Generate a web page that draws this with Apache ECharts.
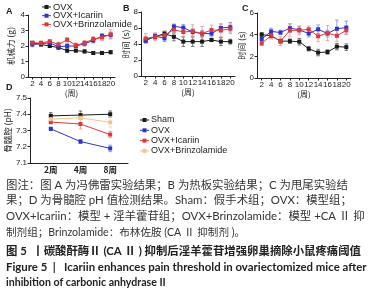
<!DOCTYPE html>
<html><head><meta charset="utf-8">
<script src="https://cdn.jsdelivr.net/npm/echarts@6/dist/echarts.min.js"></script>
<style>html,body{margin:0;padding:0;background:#fff}#c{width:383px;height:293px}</style>
</head><body><div id="c"></div>
<script>
// ---------- data ----------
const weeks = [2,4,6,8,10,12,14,16,18,20];
const weekTicks = [2,4,6,8,10,12,14,16,18,20];
// Panel A (von Frey, g)
const A_ovx = [2.2,2.1,2.0,1.9,1.7,1.7,1.65,1.55,1.55,1.6];
const A_ovxErr = [0.1,0.1,0.1,0.1,0.1,0.08,0.1,0.08,0.1,0.1];
const A_ica = [2.1,2.15,2.2,1.95,2.0,2.0,2.15,2.35,2.65,2.7];
const A_icaErr = [0.15,0.15,0.12,0.15,0.15,0.12,0.15,0.15,0.15,0.2];
const A_brz = [2.2,2.2,2.3,2.1,2.4,2.05,2.2,2.45,2.55,2.75];
const A_brzErr = [0.12,0.12,0.12,0.15,0.15,0.15,0.15,0.15,0.2,0.3];
// Panel B (hot plate, s)
const B_ovx = [4.5,4.9,5.3,4.9,4.3,4.3,4.3,4.5,4.3,4.3];
const B_ovxErr = [0.3,0.3,0.3,0.5,0.6,0.6,0.6,0.2,0.5,0.3];
const B_ica = [4.4,5.0,4.7,6.2,6.05,5.5,5.3,5.3,6.0,6.1];
const B_icaErr = [0.3,0.3,0.4,0.3,0.4,0.4,0.4,0.4,0.5,0.6];
const B_brz = [4.7,4.9,5.1,5.8,5.5,5.6,5.3,5.75,5.7,5.9];
const B_brzErr = [0.6,0.5,0.5,0.5,0.6,0.8,0.9,0.6,0.8,0.6];
// Panel C (tail flick, s)
const C_ovx = [4.0,3.9,3.4,3.4,3.35,2.7,2.35,2.4,2.9,2.85];
const C_ovxErr = [0.2,0.2,0.2,0.2,0.3,0.2,0.3,0.2,0.3,0.3];
const C_ica = [3.6,4.3,4.2,4.6,4.45,4.1,4.5,4.1,4.55,4.65];
const C_icaErr = [0.3,0.3,0.2,0.4,0.3,0.3,0.4,0.3,0.8,0.6];
const C_brz = [3.2,3.9,3.4,4.4,4.4,4.5,3.85,4.15,3.9,4.4];
const C_brzErr = [0.2,0.3,0.4,0.6,0.4,0.3,0.5,0.7,0.5,0.4];
// Panel D (bone marrow cavity pH)
const D_cats = ['2周','4周','8周'];
const D_sham = [7.39,7.395,7.40];
const D_shamErr = [0.02,0.025,0.02];
const D_ovx = [7.31,7.232,7.19];
const D_ovxErr = [0.01,0.012,0.02];
const D_ica = [7.352,7.34,7.275];
const D_icaErr = [0.012,0.03,0.02];
const D_brz = [7.37,7.378,7.35];
const D_brzErr = [0.01,0.03,0.03];
const legendABC = ['OVX','OVX+Icariin','OVX+Brinzolamide'];
const legendD = ['Sham','OVX','OVX+Icariin','OVX+Brinzolamide'];
const captionLines = [
 '图注：图 A 为冯佛雷实验结果；B 为热板实验结果；C 为甩尾实验结',
 '果；D 为骨髓腔 pH 值检测结果。Sham：假手术组；OVX：模型组；',
 'OVX+Icariin：模型 + 淫羊藿苷组；OVX+Brinzolamide：模型 +CA Ⅱ 抑',
 '制剂组；Brinzolamide：布林佐胺 (CA Ⅱ 抑制剂 )。'
];
const titleLines = [
 '图 5  丨碳酸酐酶Ⅱ (CA Ⅱ ) 抑制后淫羊藿苷增强卵巢摘除小鼠疼痛阈值',
 'Figure 5  |   Icariin enhances pain threshold in ovariectomized mice after',
 'inhibition of carbonic anhydrase II'
];

// ---------- styling ----------
const BLACK='#1a1a1a', BLUE='#2a35d0', RED='#e0383a', TAN='#f2c48e';
const colABC=[BLACK,BLUE,RED];
const colD=[BLACK,BLUE,RED,TAN];
const errCol={[BLACK]:'#555',[BLUE]:'#7a86e8',[RED]:'#f09090',[TAN]:'#f5d6b0'};
const FONT='Liberation Sans';
const CJK='Noto Sans CJK SC';
const TXT='Lato, "Noto Sans CJK SC"';
const axisLine={show:true,lineStyle:{color:'#222',width:1}};
const axisTick={show:true,length:2.5,lineStyle:{color:'#222'}};
const lab={fontSize:8,color:'#222',fontFamily:FONT,margin:3};

function pts(xs,ys){return xs.map((x,i)=>[x,ys[i]]);}
function lineS(idx,xs,ys,color){
  return {type:'line',xAxisIndex:idx,yAxisIndex:idx,data:pts(xs,ys),symbol:'rect',symbolSize:4,
    itemStyle:{color:color},lineStyle:{color:color,width:1},z:3,animation:false,silent:true};
}
function errS(idx,xs,ys,es,color){
  return {type:'custom',xAxisIndex:idx,yAxisIndex:idx,data:xs.map((x,i)=>[x,ys[i],es[i]]),z:2,animation:false,silent:true,
    renderItem:function(p,api){
      const x=api.value(0),y=api.value(1),e=api.value(2);
      const t=api.coord([x,y+e]),b=api.coord([x,y-e]);const w=1.8;
      const st={stroke:color,lineWidth:0.8};
      return {type:'group',children:[
        {type:'line',shape:{x1:t[0],y1:t[1],x2:b[0],y2:b[1]},style:st},
        {type:'line',shape:{x1:t[0]-w,y1:t[1],x2:t[0]+w,y2:t[1]},style:st},
        {type:'line',shape:{x1:b[0]-w,y1:b[1],x2:b[0]+w,y2:b[1]},style:st}]};
    }};
}
function weekX(idx){
  return {type:'value',gridIndex:idx,min:1,max:21,axisLine:axisLine,
    axisTick:Object.assign({customValues:weekTicks},axisTick),
    axisLabel:Object.assign({customValues:weekTicks},lab),splitLine:{show:false},
    name:'(周)',nameLocation:'middle',nameGap:12,nameTextStyle:{fontSize:8,color:'#222',fontFamily:CJK}};
}
function yAx(idx,min,max,interval,name,gap){
  return {type:'value',gridIndex:idx,min:min,max:max,interval:interval,axisLine:axisLine,axisTick:axisTick,
    axisLabel:lab,splitLine:{show:false},name:name,nameLocation:'middle',nameRotate:90,nameGap:gap,
    nameTextStyle:{fontSize:8.5,color:'#222',fontFamily:CJK}};
}

const series=[];
const ABC=[[A_ovx,A_ovxErr,A_ica,A_icaErr,A_brz,A_brzErr],[B_ovx,B_ovxErr,B_ica,B_icaErr,B_brz,B_brzErr],[C_ovx,C_ovxErr,C_ica,C_icaErr,C_brz,C_brzErr]];
ABC.forEach((d,idx)=>{
  for(let k=0;k<3;k++){
    series.push(errS(idx,weeks,d[2*k],d[2*k+1],errCol[colABC[k]]));
    series.push(lineS(idx,weeks,d[2*k],colABC[k]));
  }
});
const Dx=[1,2,3];
const Dd=[[D_sham,D_shamErr],[D_ovx,D_ovxErr],[D_ica,D_icaErr],[D_brz,D_brzErr]];
Dd.forEach((d,k)=>{
  series.push(errS(3,Dx,d[0],d[1],errCol[colD[k]]));
  series.push(lineS(3,Dx,d[0],colD[k]));
});

// ---------- graphics: legends, panel letters, captions ----------
const graphic=[];
function legendItem(x,y,color,text,fs){
  graphic.push({type:'line',shape:{x1:x,y1:y,x2:x+9,y2:y},style:{stroke:color,lineWidth:1},silent:true});
  graphic.push({type:'rect',shape:{x:x+2.5,y:y-2,width:4,height:4},style:{fill:color},silent:true});
  graphic.push({type:'text',x:x+11,y:y,style:{text:text,fontSize:fs,fontFamily:FONT,fill:'#222',textVerticalAlign:'middle'},silent:true});
}
legendABC.forEach((n,i)=>legendItem(42,7+i*8.7,colABC[i],n,9.3));
legendD.forEach((n,i)=>legendItem(140,120+i*10.3,colD[i],n,9));
[['A',6,12],['B',123,9],['C',242,9],['D',6,88]].forEach(a=>{
  graphic.push({type:'text',x:a[1],y:a[2],style:{text:a[0],fontSize:9,fontWeight:'bold',fontFamily:FONT,fill:'#222',textVerticalAlign:'middle'},silent:true});
});
// fit a line's font size to the target width (the reference text is justified)
const mctx=document.createElement('canvas').getContext('2d');
function fitSize(text,weight,family,base,target,lo,hi){
  mctx.font=weight+' '+base+'px '+family;
  const w=mctx.measureText(text).width;
  return Math.max(lo,Math.min(hi,base*target/w));
}
const capEnds=[370,370,370,null];
captionLines.forEach((t,i)=>{
  const fs=capEnds[i]?fitSize(t,'normal',TXT,10.6,capEnds[i]-6,10.2,11.4):10.6;
  graphic.push({type:'text',x:6,y:185+i*15.8,style:{text:t,fontSize:fs,fontFamily:TXT,fill:'#333',textVerticalAlign:'middle'},silent:true});
});
const titleEnds=[363,370,null];
titleLines.forEach((t,i)=>{
  const fs=titleEnds[i]?fitSize(t,'bold',TXT,10.6,titleEnds[i]-6,10,11.4):10.6;
  graphic.push({type:'text',x:6,y:251+i*16,style:{text:t,fontSize:fs,fontWeight:'bold',fontFamily:TXT,fill:'#222',textVerticalAlign:'middle'},silent:true});
});

const option={
  animation:false,
  grid:[
    {left:28,top:15,width:87,height:62},
    {left:141,top:12,width:94,height:64},
    {left:257,top:13,width:94,height:65},
    {left:30,top:98,width:98,height:65}
  ],
  xAxis:[weekX(0),weekX(1),weekX(2),
    {type:'value',gridIndex:3,min:0.3,max:3.6,axisLine:axisLine,
     axisTick:{show:false},
     axisLabel:Object.assign({customValues:[1,2,3],formatter:v=>D_cats[Math.round(v)-1]},lab,{fontFamily:CJK,fontSize:8.5,fontWeight:'bold'}),
     splitLine:{show:false}}],
  yAxis:[yAx(0,0,4,1,'机械力 (g)',13),yAx(1,0,8,2,'时间 (s)',11),yAx(2,0,6,2,'时间 (s)',11),yAx(3,7.1,7.5,0.1,'骨髓腔 (pH)',18)],
  series:series,
  graphic:graphic
};
echarts.init(document.getElementById('c'),null,{renderer:'canvas'}).setOption(option);
</script></body></html>
